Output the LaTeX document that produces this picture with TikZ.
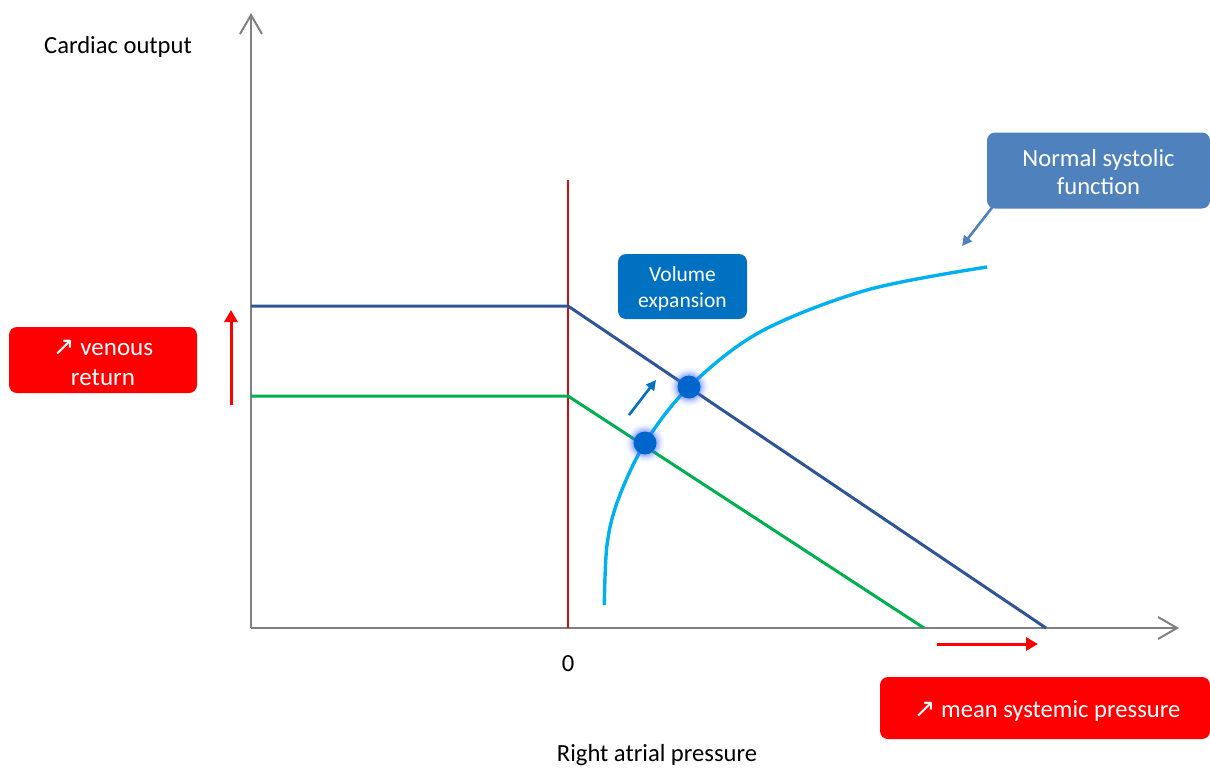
\documentclass[tikz,border=0pt]{standalone}
\usepackage{fontspec}
\setmainfont{Carlito}
\newfontfamily\symf{DejaVu Sans}
\usetikzlibrary{arrows.meta}
\definecolor{axisgray}{RGB}{128,128,128}
\definecolor{darkblue}{RGB}{47,85,151}
\definecolor{mygreen}{RGB}{0,176,80}
\definecolor{lightblue}{RGB}{0,176,240}
\definecolor{zerored}{RGB}{200,16,16}
\definecolor{brightred}{RGB}{255,0,0}
\definecolor{volblue}{RGB}{0,112,192}
\definecolor{normblue}{RGB}{79,129,189}
\definecolor{dotblue}{RGB}{0,102,204}
\definecolor{glowblue}{RGB}{70,110,255}
\newcommand{\upar}{{\symf\fontsize{13pt}{15pt}\selectfont ↗}}
\tikzset{
  axisline/.style={draw=axisgray, line width=1pt, -{Straight Barb[length=9.5pt,width=11pt,line width=1pt]}},
  curveline/.style={line width=1.5pt},
  labelbox/.style={rounded corners=4pt, text=white, align=center, inner sep=0pt},
  redarrow/.style={draw=brightred, line width=1.5pt, -{Triangle[length=6pt,width=6.5pt]}},
  plaintext/.style={font=\fontsize{12.3pt}{15pt}\selectfont, text=black, inner sep=0pt},
  opdot/.style={circle, fill=dotblue, minimum size=11.5pt, inner sep=0pt},
}
\begin{document}
\begin{tikzpicture}[x=0.5pt,y=-0.5pt]
\useasboundingbox (0,0) rectangle (1210,767);
% axes
\coordinate (O) at (251,628);
\coordinate (ytop) at (251,13);
\coordinate (xend) at (1179,628);
\draw[axisline] (O) -- (ytop);
\draw[axisline] (O) -- (xend);
% zero line
\coordinate (z1) at (568,180);
\coordinate (z2) at (568,628);
\draw[zerored, line width=1pt] (z1) -- (z2);
% venous return curves
\coordinate (b1) at (251,306);
\coordinate (b2) at (568,306);
\coordinate (b3) at (1046,628);
\draw[darkblue, curveline] (b1) -- (b2) -- (b3);
\coordinate (g1) at (251,396);
\coordinate (g2) at (568,396);
\coordinate (g3) at (924,628);
\draw[mygreen, curveline] (g1) -- (g2) -- (g3);
% cardiac function curve
\draw[lightblue, line width=1.7pt] plot[smooth, tension=0.55] coordinates {(604.3,605) (607,545) (618,500) (645,443) (689,387) (760,332) (867,290) (987,267)};
% glow and dots
\foreach \p in {(645,443),(689,387)}{
  \foreach \r/\o in {19/0.07,17/0.09,15.5/0.12,14/0.16,13/0.2}{
    \fill[glowblue, opacity=\o] \p circle (\r);
  }
}
\node[opdot] (d1) at (645,443) {};
\node[opdot] (d2) at (689,387) {};
% small shift arrow
\coordinate (s1) at (629,415);
\coordinate (s2) at (656,380);
\draw[volblue, line width=1.3pt, -{Triangle[length=5pt,width=5pt]}] (s1) -- (s2);
% labels
\node[plaintext] (co) at (118,47) {Cardiac output};
\node[plaintext] (zero) at (568,664) {0};
\node[plaintext] (rap) at (657,755) {Right atrial pressure};
% boxes
\node[labelbox, fill=brightred, minimum width=94pt, minimum height=33pt] (vr) at (103,360) {};
\node[align=center, text=white, inner sep=0pt, font=\fontsize{12.5pt}{15pt}\selectfont] (vrt) at (103,363) {\upar{} venous\\return};
\node[labelbox, fill=volblue, minimum width=64.5pt, minimum height=32.5pt] (ve) at (682.5,286.5) {};
\node[align=center, text=white, inner sep=0pt, font=\fontsize{10.75pt}{13pt}\selectfont] (vet) at (682.5,288.5) {Volume\\expansion};
\node[labelbox, fill=normblue, minimum width=111.5pt, minimum height=38pt] (ns) at (1098.5,170.5) {};
\node[align=center, text=white, inner sep=0pt, font=\fontsize{12.3pt}{14pt}\selectfont] (nst) at (1098.5,172) {Normal systolic\\function};
\node[labelbox, fill=brightred, minimum width=165pt, minimum height=31pt] (msp) at (1045,708) {};
\node[align=center, text=white, inner sep=0pt, font=\fontsize{12.3pt}{15pt}\selectfont] (mspt) at (1047,711) {\upar{} mean systemic pressure};
% red arrows
\coordinate (ra1) at (231,405);
\coordinate (ra2) at (231,310);
\draw[redarrow] (ra1) -- (ra2);
\coordinate (rh1) at (937,644);
\coordinate (rh2) at (1038,644);
\draw[redarrow] (rh1) -- (rh2);
% normal systolic pointer
\coordinate (np) at (962,246);
\draw[normblue, line width=1.3pt, -{Triangle[length=5pt,width=5pt]}] (ns.south west) ++(6,-2) -- (np);
\end{tikzpicture}
\end{document}
